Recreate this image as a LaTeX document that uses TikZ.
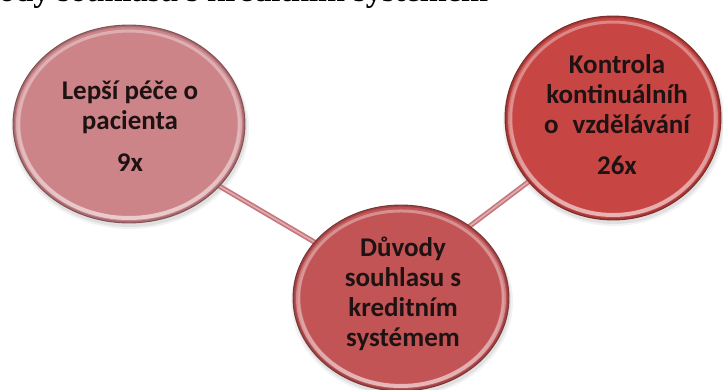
\documentclass[tikz,border=0pt]{standalone}
\usepackage{fontspec}
\newfontfamily\carlito{Carlito}
\newfontfamily\timesf{Liberation Serif}
\usetikzlibrary{shapes.geometric,fadings}
\definecolor{lfill}{RGB}{204,132,137}
\definecolor{cfill}{RGB}{194,84,86}
\definecolor{rfill}{RGB}{199,70,68}
\definecolor{linkc}{RGB}{196,120,126}
\definecolor{linkl}{RGB}{228,172,176}
\definecolor{txt}{RGB}{30,18,18}
\pgfdeclarelayer{back}\pgfdeclarelayer{bg}\pgfsetlayers{back,bg,main}
\newcommand\glossbub[3]{%
  \begin{scope}
    \clip (#1.center) ellipse [x radius=#2pt, y radius=#3pt];
    \draw[white, opacity=0.6, line width=4pt, path fading=north] (#1.center) ellipse [x radius=#2pt-5pt, y radius=#3pt-5pt];
    \draw[white, opacity=0.35, line width=3pt, path fading=south] (#1.center) ellipse [x radius=#2pt-6pt, y radius=#3pt-6pt];
    \draw[black, opacity=0.18, line width=4pt] (#1.center) ellipse [x radius=#2pt, y radius=#3pt];
  \end{scope}}
\newcommand\shadbub[3]{%
  \fill[black, opacity=0.05] ([xshift=1pt,yshift=-4pt]#1.center) ellipse [x radius=#2pt+3pt, y radius=#3pt+2pt];
  \fill[black, opacity=0.07] ([xshift=1pt,yshift=-3pt]#1.center) ellipse [x radius=#2pt+1pt, y radius=#3pt+1pt];}
\begin{document}
\begin{tikzpicture}[x=1pt,y=-1pt,
  bubble/.style={ellipse, fill=#1, draw=#1!70!black, line width=0.9pt, inner sep=0pt, outer sep=0pt},
  lbl/.style={align=center, text=txt, font=\carlito\bfseries\fontsize{27}{30}\selectfont, inner sep=0pt},
  link/.style={line width=5pt, draw=linkc},
  linkhi/.style={line width=1.6pt, draw=linkl},
  titlefont/.style={font=\timesf\bfseries\fontsize{32.4}{36}\selectfont}
  ]
\useasboundingbox (0,0) rectangle (723,390);
\begin{pgfonlayer}{back}\fill[white] (0,0) rectangle (723,390);\end{pgfonlayer}

\node[anchor=base west, inner sep=0pt, titlefont] (T) at (-1,2) {ody souhlasu s kreditním systémem};

\node[bubble=lfill, minimum width=232pt, minimum height=198pt] (L) at (129,124) {};
\node[bubble=cfill, minimum width=216pt, minimum height=186pt] (C) at (401,298) {};
\node[bubble=rfill, minimum width=216pt, minimum height=204pt] (R) at (613,118) {};

\begin{pgfonlayer}{bg}
  \shadbub{L}{116}{99}
  \shadbub{C}{108}{93}
  \shadbub{R}{108}{102}
  \draw[link] ([yshift=-9pt]L.center) -- ([yshift=5pt]C.center);
  \draw[linkhi] ([yshift=-9pt]L.center) -- ([yshift=5pt]C.center);
  \draw[link] ([yshift=20pt]C.center) -- (R.center);
  \draw[linkhi] ([yshift=20pt]C.center) -- (R.center);
\end{pgfonlayer}

\glossbub{L}{116}{99}
\glossbub{C}{108}{93}
\glossbub{R}{108}{102}

\node[lbl] (Lt) at (130,126) {Lepší péče o\\pacienta\\[12pt]9x};
\node[lbl] (Ct) at (403,294) {Důvody\\souhlasu s\\kreditním\\systémem};
\node[lbl] (Rt) at (617,115) {Kontrola\\kontinuálníh\\o\hspace{0.3em} vzdělávání\\[11pt]26x};
\end{tikzpicture}
\end{document}
